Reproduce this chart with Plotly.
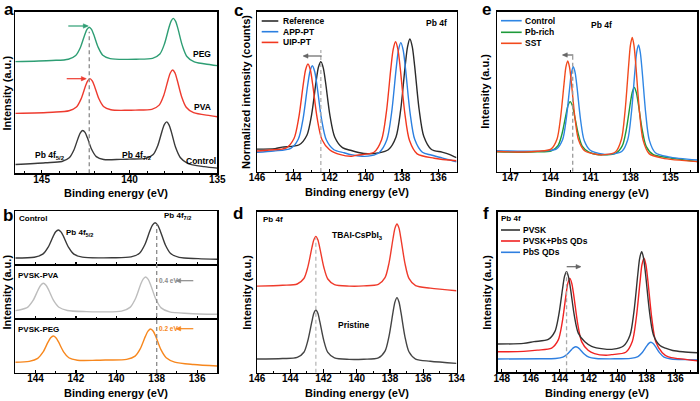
import plotly.graph_objects as go

FONT = "Liberation Sans, Arial, sans-serif"
W, H = 700, 401

# ---------------- data (binding energy in eV, intensity in a.u.) ----------------
# panel a
A_CONTROL_E = [146.5, 144.79, 143.85, 143.43, 143.17, 142.92, 142.79, 142.66, 142.53, 142.40, 142.15, 141.89, 141.47, 140.53, 140.01, 139.07, 138.65, 138.39, 138.14, 138.01, 137.88, 137.75, 137.62, 137.37, 137.11, 136.69, 135.75, 135.0]
A_CONTROL_I = [5.4, 6.5, 7.3, 9.6, 14.3, 21.9, 25.2, 26.5, 25.3, 22.1, 14.7, 10.3, 8.5, 8.6, 8.8, 9.2, 11.6, 17.1, 26.3, 30.3, 31.8, 30.0, 25.8, 15.9, 9.8, 6.2, 4.1, 3.2]
A_PVA_E = [146.5, 144.38, 143.44, 143.02, 142.76, 142.51, 142.38, 142.25, 142.12, 141.99, 141.74, 141.48, 141.06, 140.12, 139.67, 138.73, 138.31, 138.05, 137.80, 137.67, 137.54, 137.41, 137.28, 137.03, 136.77, 136.35, 135.41, 135.0]
A_PVA_I = [37.1, 37.8, 38.7, 41.0, 45.9, 53.8, 57.2, 58.6, 57.2, 53.9, 46.1, 41.4, 39.3, 39.0, 39.1, 39.6, 42.2, 48.2, 57.9, 62.2, 63.9, 62.1, 57.6, 47.4, 40.9, 37.5, 35.7, 35.0]
A_PEG_E = [146.5, 144.42, 143.48, 143.06, 142.80, 142.55, 142.42, 142.29, 142.16, 142.03, 141.78, 141.52, 141.10, 140.16, 139.63, 138.69, 138.27, 138.01, 137.76, 137.63, 137.50, 137.37, 137.24, 136.99, 136.73, 136.31, 135.37, 135.0]
A_PEG_I = [69.1, 69.8, 70.6, 72.9, 77.7, 85.6, 89.0, 90.4, 89.0, 85.7, 77.9, 73.1, 71.0, 70.5, 70.6, 71.1, 73.8, 80.0, 89.9, 94.2, 95.9, 94.0, 89.5, 79.0, 72.3, 68.9, 67.2, 66.6]
A_SHIFT_REF = 142.29

# panel b
B_CONTROL_E = [145.0, 144.06, 143.64, 143.38, 143.13, 143.00, 142.87, 142.74, 142.61, 142.36, 142.10, 141.68, 140.74, 140.21, 139.27, 138.85, 138.59, 138.34, 138.21, 138.08, 137.95, 137.82, 137.57, 137.31, 136.89, 135.95, 135.0]
B_CONTROL_I = [12.9, 14.4, 20.1, 32.5, 52.6, 61.4, 64.9, 61.4, 52.6, 32.5, 20.1, 14.5, 13.2, 13.4, 15.0, 21.9, 37.5, 62.9, 73.9, 78.3, 73.9, 62.7, 37.1, 21.3, 14.0, 11.8, 10.6]
B_PVA_E = [145.0, 144.80, 144.38, 144.12, 143.87, 143.74, 143.61, 143.48, 143.35, 143.10, 142.84, 142.42, 141.48, 140.68, 139.74, 139.32, 139.06, 138.81, 138.68, 138.55, 138.42, 138.29, 138.04, 137.78, 137.36, 136.42, 135.0]
B_PVA_I = [15.5, 16.6, 22.1, 34.3, 54.0, 62.6, 66.1, 62.6, 53.9, 34.0, 21.7, 15.8, 13.6, 13.2, 14.5, 21.5, 37.1, 62.5, 73.5, 77.8, 73.4, 62.2, 36.5, 20.6, 13.1, 10.3, 8.7]
B_PEG_E = [145.0, 144.31, 143.89, 143.63, 143.38, 143.25, 143.12, 142.99, 142.86, 142.61, 142.35, 141.93, 140.99, 140.43, 139.49, 139.07, 138.81, 138.56, 138.43, 138.30, 138.17, 138.04, 137.79, 137.53, 137.11, 136.17, 135.0]
B_PEG_I = [19.9, 21.6, 27.1, 38.5, 57.2, 65.2, 68.5, 65.4, 57.5, 39.3, 28.3, 23.7, 23.6, 24.1, 25.2, 31.3, 45.1, 67.8, 77.6, 81.5, 77.3, 67.0, 43.2, 28.2, 20.2, 15.7, 13.0]
B_SHIFT_REF = 138.0

# panel c
C_REF_E = [146.0, 145.0, 144.61, 143.67, 143.25, 142.99, 142.74, 142.61, 142.48, 142.35, 142.22, 141.97, 141.71, 141.29, 140.8, 140.4, 139.9, 139.3, 138.76, 138.34, 138.08, 137.83, 137.70, 137.57, 137.44, 137.31, 137.06, 136.80, 136.38, 135.8, 135.4, 135.0]
C_REF_I = [14.3, 14.6, 15.5, 17.0, 22.9, 35.7, 56.5, 65.5, 68.8, 65.1, 55.9, 34.7, 21.7, 15.2, 13.4, 12.2, 11.4, 11.9, 13.9, 21.7, 38.6, 66.2, 78.1, 83.0, 78.2, 66.4, 39.0, 22.1, 14.0, 12.4, 11.0, 8.9]
C_APP_E = [146.0, 145.08, 144.14, 143.72, 143.46, 143.21, 143.08, 142.95, 142.82, 142.69, 142.44, 142.18, 141.76, 141.2, 140.82, 140.2, 139.7, 139.26, 138.84, 138.58, 138.33, 138.20, 138.07, 137.94, 137.81, 137.56, 137.30, 136.88, 136.4, 135.94, 135.5, 135.0]
C_APP_I = [12.3, 13.1, 14.7, 20.6, 33.2, 53.8, 62.7, 66.3, 62.7, 53.7, 32.9, 20.1, 13.9, 12.0, 10.8, 9.8, 10.2, 12.2, 20.1, 36.8, 64.2, 76.0, 80.7, 76.0, 64.2, 36.9, 20.2, 12.3, 10.6, 9.2, 7.8, 6.4]
C_UIP_E = [146.0, 145.32, 144.38, 143.96, 143.70, 143.45, 143.32, 143.19, 143.06, 142.93, 142.68, 142.42, 142.00, 141.4, 140.8, 140.49, 139.55, 139.13, 138.87, 138.62, 138.49, 138.36, 138.23, 138.10, 137.85, 137.59, 137.17, 136.23, 135.0]
C_UIP_I = [13.1, 13.7, 15.1, 20.9, 33.7, 54.7, 63.8, 67.4, 63.8, 54.6, 33.4, 20.3, 13.9, 10.8, 9.8, 10.5, 12.3, 20.1, 37.0, 64.6, 76.5, 81.3, 76.5, 64.5, 36.7, 19.6, 11.3, 8.6, 7.0]
C_SHIFT_REF = 142.48

# panel d
D_E = [146.0, 144.46, 143.58, 143.18, 142.94, 142.70, 142.58, 142.46, 142.34, 142.22, 141.98, 141.74, 141.34, 140.46, 139.58, 138.70, 138.30, 138.06, 137.82, 137.70, 137.58, 137.46, 137.34, 137.10, 136.86, 136.46, 135.58, 134.0]
D_TBAI_I = [53.8, 54.3, 55.1, 58.5, 65.7, 77.5, 82.6, 84.7, 82.6, 77.4, 65.5, 58.2, 54.7, 53.8, 53.9, 54.8, 59.0, 68.1, 83.2, 89.8, 92.4, 89.8, 83.1, 67.9, 58.6, 54.1, 52.5, 50.9]
D_PRISTINE_I = [8.5, 8.8, 9.5, 12.7, 20.0, 31.7, 36.9, 38.9, 36.9, 31.7, 19.9, 12.6, 9.2, 8.3, 8.4, 9.2, 13.4, 22.6, 37.5, 44.0, 46.6, 43.9, 37.4, 22.3, 13.0, 8.5, 7.1, 5.8]
D_SHIFT_REF = 142.46

# panel e
E_CONTROL_E = [148.0, 146.0, 144.53, 143.54, 143.09, 142.82, 142.55, 142.42, 142.28, 142.15, 142.01, 141.74, 141.47, 141.02, 140.03, 139.65, 138.66, 138.21, 137.94, 137.67, 137.54, 137.40, 137.27, 137.13, 136.86, 136.59, 136.14, 135.15, 133.0]
E_CONTROL_I = [13.1, 12.8, 13.0, 14.3, 20.0, 32.6, 53.1, 62.0, 65.6, 61.9, 53.0, 32.3, 19.5, 13.4, 10.9, 10.8, 12.6, 20.0, 36.4, 63.0, 74.6, 79.2, 74.6, 62.9, 36.2, 19.6, 11.9, 9.3, 7.3]
E_PBRICH_E = [148.0, 146.0, 145.02, 143.92, 143.42, 143.12, 142.82, 142.67, 142.52, 142.37, 142.22, 141.92, 141.62, 141.12, 140.4, 139.12, 138.62, 138.32, 138.02, 137.87, 137.72, 137.57, 137.42, 137.12, 136.82, 136.32, 135.22, 133.0]
E_PBRICH_I = [12.5, 12.2, 12.4, 13.1, 16.5, 24.0, 36.3, 41.7, 43.8, 41.7, 36.2, 23.8, 16.0, 12.2, 10.6, 11.5, 16.1, 26.2, 42.6, 49.7, 52.6, 49.6, 42.5, 26.0, 15.7, 10.8, 8.8, 6.3]
E_SST_E = [148.0, 146.0, 144.95, 143.96, 143.51, 143.24, 142.97, 142.84, 142.70, 142.57, 142.43, 142.16, 141.89, 141.44, 140.45, 140.12, 139.13, 138.68, 138.41, 138.14, 138.01, 137.87, 137.74, 137.60, 137.33, 137.06, 136.61, 135.62, 133.0]
E_SST_I = [12.6, 12.3, 12.8, 14.1, 20.3, 33.8, 55.8, 65.4, 69.2, 65.3, 55.7, 33.5, 19.8, 13.1, 10.7, 10.5, 12.3, 20.3, 37.9, 66.5, 78.9, 83.9, 78.8, 66.3, 37.5, 19.7, 11.3, 8.5, 6.3]
E_SHIFT_REF = 142.33

# panel f
F_PVSK_E = [148.3, 146.5, 145.78, 144.79, 144.34, 144.07, 143.80, 143.67, 143.53, 143.40, 143.26, 142.99, 142.72, 142.27, 141.8, 141.0, 140.3, 139.60, 139.15, 138.88, 138.61, 138.48, 138.34, 138.21, 138.07, 137.80, 137.53, 137.08, 136.7, 136.2, 135.5, 134.5]
F_PVSK_I = [17.6, 18.0, 19.1, 20.5, 25.3, 35.6, 52.4, 59.7, 62.6, 59.6, 52.2, 35.1, 24.4, 19.0, 16.2, 14.6, 14.4, 16.4, 23.1, 37.5, 60.9, 71.0, 75.1, 71.0, 60.9, 37.6, 23.3, 16.7, 15.0, 13.6, 12.8, 12.2]
F_MIX_E = [148.3, 146.5, 145.55, 144.56, 144.11, 143.84, 143.57, 143.44, 143.30, 143.17, 143.03, 142.76, 142.49, 142.04, 141.6, 140.8, 140.43, 139.44, 138.99, 138.72, 138.45, 138.32, 138.18, 138.05, 137.91, 137.64, 137.37, 136.92, 136.5, 135.8, 134.5]
F_MIX_I = [12.8, 13.0, 13.8, 15.1, 20.0, 30.6, 48.0, 55.5, 58.5, 55.4, 47.8, 30.2, 19.1, 13.7, 11.6, 10.6, 11.0, 12.5, 19.2, 33.5, 56.8, 67.0, 71.0, 67.0, 56.7, 33.4, 19.0, 12.2, 9.6, 8.5, 7.2]
F_PBS_E = [148.3, 145.39, 144.29, 143.79, 143.49, 143.19, 143.04, 142.89, 142.74, 142.59, 142.29, 141.99, 141.49, 140.2, 139.1, 138.6, 138.3, 138.0, 137.85, 137.7, 137.55, 137.4, 137.1, 136.8, 136.3, 135.2, 134.5]
F_PBS_I = [8.3, 8.4, 8.6, 9.4, 11.2, 14.1, 15.4, 15.9, 15.4, 14.1, 11.2, 9.4, 8.6, 8.4, 8.7, 9.8, 12.3, 16.3, 18.0, 18.7, 17.9, 16.2, 12.1, 9.5, 8.3, 7.9, 7.7]
F_SHIFT_REF = 143.53

# ---------------- layout helpers ----------------
def fx(p):
    return p / W

def fy(p):
    return 1 - p / H

# name: (x-left px, x-right px, y-top px, y-bottom px, x range, major tick dtick, minor dtick, show labels)
PANELS = {
    "":  (15.3, 217.3, 11.7, 173.3, [146.5, 135.0], 5, 1, True),
    "2": (15.3, 217.3, 211.0, 265.0, [145.0, 135.0], 2, 1, False),
    "3": (15.3, 217.3, 265.0, 319.0, [145.0, 135.0], 2, 1, False),
    "4": (15.3, 217.3, 319.0, 373.0, [145.0, 135.0], 2, 1, True),
    "5": (257.0, 456.5, 11.7, 172.0, [146.0, 135.0], 2, 1, True),
    "6": (257.0, 456.5, 211.7, 372.7, [146.0, 134.0], 2, 1, True),
    "7": (497.0, 697.3, 11.7, 171.7, [148.0, 133.0], 3, 1.5, True),
    "8": (497.5, 697.3, 211.7, 372.3, [148.3, 134.5], 2, 1, True),
}

fig = go.Figure()
layout = dict(
    template="none",
    width=W, height=H, margin=dict(l=0, r=0, t=0, b=0, autoexpand=False),
    paper_bgcolor="white", plot_bgcolor="white", showlegend=False,
    font=dict(family=FONT, color="black"),
)
for k, (x0, x1, y0, y1, xr, dt, mdt, lab) in PANELS.items():
    layout["xaxis" + k] = dict(
        domain=[fx(x0), fx(x1)], anchor="y" + k, range=xr, autorange=False, automargin=False,
        showgrid=False, zeroline=False, showline=True, mirror=True,
        linecolor="black", linewidth=1.3,
        ticks="inside", ticklen=3.5, tickwidth=1.2, tickcolor="black",
        dtick=dt, tick0=0, showticklabels=lab, ticklabelstandoff=-4,
        tickfont=dict(family=FONT, size=10, color="black", weight="bold"),
        minor=dict(ticks="inside", ticklen=2, tickwidth=1, dtick=mdt, tick0=0, tickcolor="black"),
    )
    layout["yaxis" + k] = dict(
        domain=[fy(y1), fy(y0)], anchor="x" + k, range=[0, 100], autorange=False, automargin=False,
        showgrid=False, zeroline=False, showline=True, mirror=True,
        linecolor="black", linewidth=1.3, showticklabels=False, ticks="",
    )


def add(x, y, color, ax=""):
    fig.add_trace(go.Scatter(
        x=x, y=y, mode="lines", xaxis="x" + ax, yaxis="y" + ax,
        line=dict(color=color, width=1.4, shape="spline", smoothing=0.8),
        hoverinfo="skip", showlegend=False))

DARK = "#3a3a3a"
add(A_CONTROL_E, A_CONTROL_I, DARK, "")
add(A_PVA_E, A_PVA_I, "#ee3b2f", "")
add(A_PEG_E, A_PEG_I, "#2e9e74", "")
add(B_CONTROL_E, B_CONTROL_I, DARK, "2")
add(B_PVA_E, B_PVA_I, "#bdbdbd", "3")
add(B_PEG_E, B_PEG_I, "#f7871d", "4")
add(C_REF_E, C_REF_I, "#2b2b2b", "5")
add(C_APP_E, C_APP_I, "#2b7fe0", "5")
add(C_UIP_E, C_UIP_I, "#f2381f", "5")
add(D_E, D_TBAI_I, "#ef3b2c", "6")
add(D_E, D_PRISTINE_I, "#444444", "6")
add(E_PBRICH_E, E_PBRICH_I, "#1e9a3a", "7")
add(E_CONTROL_E, E_CONTROL_I, "#2f86e4", "7")
add(E_SST_E, E_SST_I, "#f24a1d", "7")
add(F_PBS_E, F_PBS_I, "#2f7fe0", "8")
add(F_MIX_E, F_MIX_I, "#f02222", "8")
add(F_PVSK_E, F_PVSK_I, "#333333", "8")

shapes = []
def vdash(xv, ax, ytop, color, yref_paper=None):
    if yref_paper is None:
        shapes.append(dict(type="line", xref="x" + ax, yref="y" + ax, x0=xv, x1=xv, y0=0, y1=ytop,
                           line=dict(color=color, width=1.3, dash="4px,3px")))
    else:
        shapes.append(dict(type="line", xref="x" + ax, yref="paper", x0=xv, x1=xv,
                           y0=yref_paper[0], y1=yref_paper[1],
                           line=dict(color=color, width=1.3, dash="4px,3px")))

vdash(A_SHIFT_REF, "", 87.6, "#8a8a8a")
vdash(B_SHIFT_REF, "2", None, "#8a8a8a", (fy(373), fy(224)))
vdash(C_SHIFT_REF, "5", 76.1, "#b0b0b0")
vdash(D_SHIFT_REF, "6", 83.7, "#b8b8b8")
vdash(E_SHIFT_REF, "7", 72.9, "#9a9a9a")
vdash(F_SHIFT_REF, "8", 62.6, "#aaaaaa")

def legline(x0, x1, yy, color):
    shapes.append(dict(type="line", xref="paper", yref="paper", x0=fx(x0), x1=fx(x1),
                       y0=fy(yy), y1=fy(yy), line=dict(color=color, width=1.6)))

def arrow(tx, ty, hx, hy, color):
    # shaft as a line shape, head as a small filled triangle path
    shapes.append(dict(type="line", xref="paper", yref="paper", x0=fx(tx), x1=fx(hx),
                       y0=fy(ty), y1=fy(hy), line=dict(color=color, width=1.2)))
    d = 1 if hx > tx else -1
    p = "M{},{} L{},{} L{},{} Z".format(fx(hx + d * 1), fy(hy), fx(hx - d * 4), fy(hy - 2.2),
                                         fx(hx - d * 4), fy(hy + 2.2))
    shapes.append(dict(type="path", xref="paper", yref="paper", path=p,
                       fillcolor=color, line=dict(color=color, width=0.5)))

ann = []
def txt(x, y, s, size=8.5, anchor="center", color="black", angle=0):
    ann.append(dict(xref="paper", yref="paper", x=fx(x), y=fy(y), text="<b>" + s + "</b>",
                    showarrow=False, xanchor=anchor, yanchor="middle", textangle=angle,
                    borderpad=0, font=dict(family=FONT, size=size, color=color)))

# legends
for yy, col, lab in [(21, "#2b2b2b", "Reference"), (31.7, "#2b7fe0", "APP-PT"), (42.4, "#f2381f", "UIP-PT")]:
    legline(261.7, 278.3, yy, col)
    txt(282, yy, lab, 8.5, "left")
for yy, col, lab in [(20.7, "#2f86e4", "Control"), (32.3, "#1e9a3a", "Pb-rich"), (43.3, "#f24a1d", "SST")]:
    legline(501, 521.7, yy, col)
    txt(524.3, yy, lab, 8.5, "left")
for yy, col, lab in [(230, "#333333", "PVSK"), (241, "#f02222", "PVSK+PbS QDs"), (252.3, "#2f7fe0", "PbS QDs")]:
    legline(501, 520, yy, col)
    txt(522.3, yy, lab, 8.5, "left")

# in-panel labels
txt(212, 54, "PEG", 8.5, "right")
txt(212, 107, "PVA", 8.5, "right")
txt(216.5, 161, "Control", 8.5, "right")
txt(50, 155, "Pb 4f<sub>5/2</sub>", 8.5)
txt(136.7, 155, "Pb 4f<sub>7/2</sub>", 8.5)

txt(18, 218.3, "Control", 8, "left")
txt(65, 233.3, "Pb 4f<sub>5/2</sub>", 8, "left")
txt(163.3, 216, "Pb 4f<sub>7/2</sub>", 8, "left")
txt(16.7, 275, "PVSK-PVA", 8, "left")
txt(158.3, 280.7, "0.4 eV", 6.5, "left", "#8a8a8a")
txt(16.7, 329, "PVSK-PEG", 8, "left")
txt(158.3, 328.7, "0.2 eV", 6.5, "left", "#f7871d")

txt(436, 23.3, "Pb 4f", 8.5)
txt(262, 219.3, "Pb 4f", 8, "left")
txt(357.5, 235, "TBAI-CsPbI<sub>3</sub>", 8.5)
txt(354, 325, "Pristine", 8.5)
txt(601.7, 25, "Pb 4f", 8.5)
txt(500, 218.3, "Pb 4f", 8, "left")

# arrows
arrow(68.3, 26, 87.3, 26, "#2e9e74")
arrow(66.7, 78.7, 85.3, 78.7, "#ee3b2f")
arrow(193.3, 280.7, 176.7, 280.7, "#8a8a8a")
arrow(193.3, 328.7, 176.7, 328.7, "#f7871d")
arrow(321.7, 56, 304, 56, "#666666")
arrow(573.3, 55, 563.3, 55, "#666666")
arrow(566.7, 266.7, 580, 266.7, "#666666")

# axis titles
for cx, cy in [(116.3, 192.5), (116.3, 393), (356.7, 192), (356.7, 392.5), (597, 192.5), (597.4, 392.5)]:
    txt(cx, cy, "Binding energy (eV)", 11)
for cx, cy, s in [(6.5, 93, "Intensity (a.u.)"), (6.5, 292, "Intensity (a.u.)"),
                  (246, 92, "Normalized intensity (counts)"), (246.7, 292, "Intensity (a.u.)"),
                  (485, 91.7, "Intensity (a.u.)"), (486.7, 292, "Intensity (a.u.)")]:
    txt(cx, cy, s, 11, "center", "black", -90)

# panel letters
for cx, cy, s in [(8.5, 9, "a"), (8, 215.5, "b"), (238.5, 10.2, "c"), (238, 213.5, "d"), (486, 9.7, "e"), (486.5, 213.5, "f")]:
    txt(cx, cy, s, 17)

layout["shapes"] = shapes
layout["annotations"] = ann
fig.update_layout(**layout)
fig.write_html("out.html", config={"displayModeBar": False, "staticPlot": True},
               post_script="document.body.style.margin='0';document.body.style.overflow='hidden';")
